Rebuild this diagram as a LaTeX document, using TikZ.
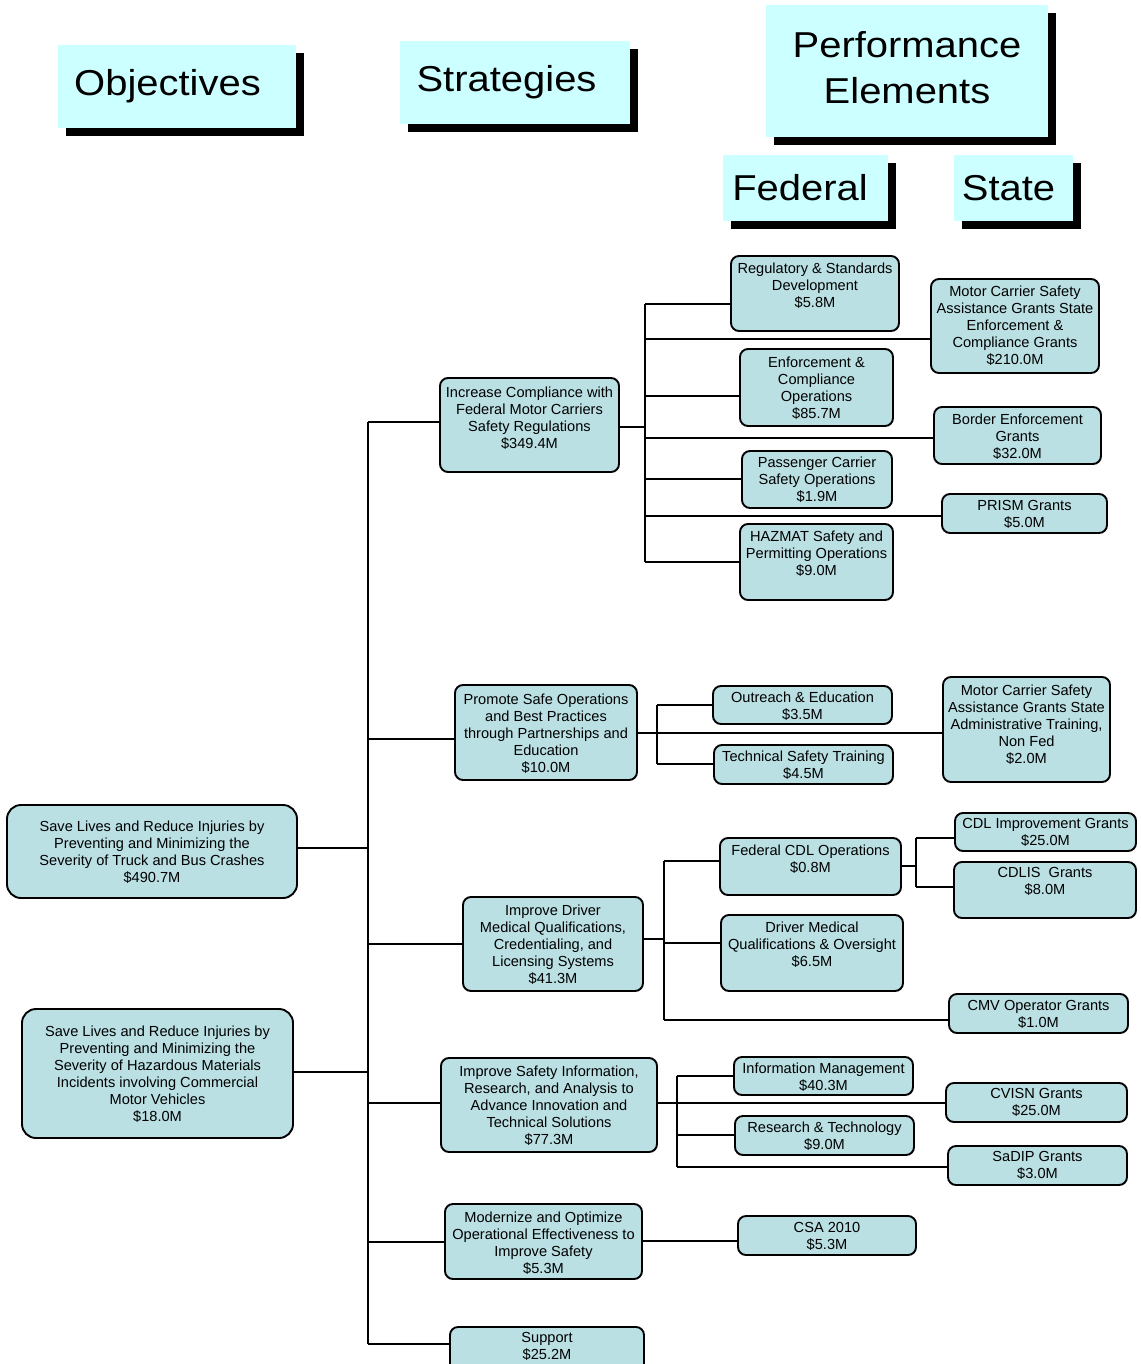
\documentclass[tikz,border=0pt]{standalone}
\usepackage{fontspec}
\setmainfont{Liberation Sans}
\newfontfamily\hdfont[FakeStretch=1.11]{Liberation Sans}
\usetikzlibrary{shadows}
\definecolor{hdr}{RGB}{204,255,255}
\definecolor{bxf}{RGB}{186,224,228}
\tikzset{
  bx/.style={draw, line width=1.9pt, rounded corners=8pt, fill=bxf, inner sep=0pt},
  txt/.style={font=\fontsize{14.6}{17}\selectfont, align=center, inner sep=0pt},
  hd/.style={fill=hdr, font=\hdfont\fontsize{36}{45.5}\selectfont, align=center, inner sep=0pt,
    drop shadow={shadow xshift=8pt, shadow yshift=-8pt, fill=black, opacity=1}},
  ln/.style={line width=1.9pt}
}
% name x1 y1 x2 y2 firstline-offset text
\newcommand\bx[7]{%
  \node[bx,minimum width={#4-#2},minimum height={#5-#3}] (#1) at ({(#2+#4)/2},{(#3+#5)/2}) {};
  \node[txt,anchor=north] (#1-t) at ([yshift={-(#6-4.8)}]#1.north) {#7};}
\begin{document}
\begin{tikzpicture}[x=1pt,y=-1pt]
\useasboundingbox (0,0) rectangle (1140,1364);

% headers
\node[hd,minimum width=238,minimum height=83] (hobj) at (177,86.5) {Objectives\hspace{19pt}};
\node[hd,minimum width=230,minimum height=83] (hstr) at (515,82.5) {Strategies\hspace{17pt}};
\node[hd,minimum width=282,minimum height=132] (hperf) at (907,71) {Performance\\Elements\rule[-7pt]{0pt}{7pt}};
\node[hd,minimum width=165,minimum height=66] (hfed) at (805.5,188) {Federal\hspace{11pt}};
\node[hd,minimum width=119,minimum height=66] (hsta) at (1013.5,188) {State\hspace{10pt}};

% objectives
\begin{scope}[bx/.append style={rounded corners=14pt}]
\bx{O1}{7}{805}{297}{898}{21}{Save Lives and Reduce Injuries by\\Preventing and Minimizing the\\Severity of Truck and Bus Crashes\\\$490.7M}
\bx{O2}{22}{1009}{293}{1138}{22}{Save Lives and Reduce Injuries by\\Preventing and Minimizing the\\Severity of Hazardous Materials\\Incidents involving Commercial\\Motor Vehicles\\\$18.0M}
\end{scope}

% strategies
\bx{S1}{440}{378}{619}{472}{14}{Increase Compliance with\\Federal Motor Carriers\\Safety Regulations\\\$349.4M}
\bx{S2}{455}{685}{637}{780}{14}{Promote Safe Operations\\and Best Practices\\through Partnerships and\\Education\\\$10.0M}
\bx{S3}{463}{897}{643}{991}{13}{Improve Driver\\Medical Qualifications,\\Credentialing, and\\Licensing Systems\\\$41.3M}
\bx{S4}{441}{1058}{657}{1152}{13}{Improve Safety Information,\\Research, and Analysis to\\Advance Innovation and\\Technical Solutions\\\$77.3M}
\bx{S5}{445}{1204}{642}{1279}{13}{Modernize and Optimize\\Operational Effectiveness to\\Improve Safety\\\$5.3M}
\bx{S6}{450}{1327}{644}{1378}{11}{Support\\\$25.2M}

% federal
\bx{F1}{731}{256}{899}{331}{12}{Regulatory \& Standards\\Development\\\$5.8M}
\bx{F2}{740}{349}{893}{426}{13}{Enforcement \&\\Compliance\\Operations\\\$85.7M}
\bx{F3}{742}{451}{892}{508}{11}{Passenger Carrier\\Safety Operations\\\$1.9M}
\bx{F4}{740}{524}{893}{600}{12}{HAZMAT Safety and\\Permitting Operations\\\$9.0M}
\bx{F5}{713}{686}{892}{724}{11}{Outreach \& Education\\\$3.5M}
\bx{F6}{714}{745}{893}{784}{11}{Technical Safety Training\\\$4.5M}
\bx{F7}{720}{838}{901}{895}{12}{Federal CDL Operations\\\$0.8M}
\bx{F8}{721}{915}{903}{991}{12}{Driver Medical\\Qualifications \& Oversight\\\$6.5M}
\bx{F9}{734}{1057}{913}{1095}{11}{Information Management\\\$40.3M}
\bx{F10}{735}{1116}{914}{1155}{11}{Research \& Technology\\\$9.0M}
\bx{CSA}{738}{1216}{916}{1255}{12}{CSA 2010\\\$5.3M}

% state
\bx{St1}{931}{279}{1099}{373}{12}{Motor Carrier Safety\\Assistance Grants State\\Enforcement \&\\Compliance Grants\\\$210.0M}
\bx{St2}{934}{407}{1101}{464}{12}{Border Enforcement\\Grants\\\$32.0M}
\bx{St3}{942}{494}{1107}{533}{12}{PRISM Grants\\\$5.0M}
\bx{St4}{943}{677}{1110}{782}{13}{Motor Carrier Safety\\Assistance Grants State\\Administrative Training,\\Non Fed\\\$2.0M}
\bx{St5}{949}{994}{1128}{1033}{12}{CMV Operator Grants\\\$1.0M}
\bx{St6}{955}{813}{1136}{851}{11}{CDL Improvement Grants\\\$25.0M}
\bx{St7}{954}{862}{1136}{918}{11}{CDLIS~ Grants\\\$8.0M}
\bx{St8}{946}{1083}{1127}{1122}{11}{CVISN Grants\\\$25.0M}
\bx{St9}{948}{1146}{1127}{1185}{11}{SaDIP Grants\\\$3.0M}

% trunk
\coordinate (T0) at (368,422);
\coordinate (T1) at (368,739);
\coordinate (T2) at (368,944);
\coordinate (T3) at (368,1103);
\coordinate (T4) at (368,1242);
\coordinate (T6) at (368,1344);
\coordinate (TO1) at (368,848);
\coordinate (TO2) at (368,1072);
\draw[ln] (T0) -- (T6);
\draw[ln] (T0) -- (T0 -| S1.west);
\draw[ln] (T1) -- (T1 -| S2.west);
\draw[ln] (T2) -- (T2 -| S3.west);
\draw[ln] (T3) -- (T3 -| S4.west);
\draw[ln] (T4) -- (T4 -| S5.west);
\draw[ln] (T6) -- (T6 -| S6.west);
\draw[ln] (TO1 -| O1.east) -- (TO1);
\draw[ln] (TO2 -| O2.east) -- (TO2);

% S1 bus
\coordinate (B1a) at (645,304);
\coordinate (B1b) at (645,562);
\coordinate (b12) at (645,339);
\coordinate (b13) at (645,396);
\coordinate (b14) at (645,427);
\coordinate (b15) at (645,438);
\coordinate (b16) at (645,479);
\coordinate (b17) at (645,516);
\draw[ln] (B1a) -- (B1b);
\draw[ln] (b14 -| S1.east) -- (b14);
\draw[ln] (B1a) -- (B1a -| F1.west);
\draw[ln] (b12) -- (b12 -| St1.west);
\draw[ln] (b13) -- (b13 -| F2.west);
\draw[ln] (b15) -- (b15 -| St2.west);
\draw[ln] (b16) -- (b16 -| F3.west);
\draw[ln] (b17) -- (b17 -| St3.west);
\draw[ln] (B1b) -- (B1b -| F4.west);

% S2 bus
\coordinate (B2a) at (657,705);
\coordinate (B2b) at (657,764);
\coordinate (c0) at (657,733);
\draw[ln] (B2a) -- (B2b);
\draw[ln] (c0 -| S2.east) -- (c0 -| St4.west);
\draw[ln] (B2a) -- (B2a -| F5.west);
\draw[ln] (B2b) -- (B2b -| F6.west);

% S3 bus
\coordinate (B3a) at (664,861);
\coordinate (B3b) at (664,1020);
\coordinate (b3o) at (664,939);
\coordinate (b3m) at (664,943);
\draw[ln] (B3a) -- (B3b);
\draw[ln] (b3o -| S3.east) -- (b3o);
\draw[ln] (B3a) -- (B3a -| F7.west);
\draw[ln] (b3m) -- (b3m -| F8.west);
\draw[ln] (B3b) -- (B3b -| St5.west);

% F7 bus
\coordinate (B4a) at (916,838);
\coordinate (B4b) at (916,887);
\coordinate (b4o) at (916,866);
\draw[ln] (B4a) -- (B4b);
\draw[ln] (b4o -| F7.east) -- (b4o);
\draw[ln] (B4a) -- (B4a -| St6.west);
\draw[ln] (B4b) -- (B4b -| St7.west);

% S4 bus
\coordinate (B5a) at (677,1076);
\coordinate (B5b) at (677,1167);
\coordinate (b5o) at (677,1103);
\coordinate (b5m) at (677,1135);
\draw[ln] (B5a) -- (B5b);
\draw[ln] (b5o -| S4.east) -- (b5o -| St8.west);
\draw[ln] (B5a) -- (B5a -| F9.west);
\draw[ln] (b5m) -- (b5m -| F10.west);
\draw[ln] (B5b) -- (B5b -| St9.west);

% S5
\coordinate (b6) at (690,1241);
\draw[ln] (b6 -| S5.east) -- (b6 -| CSA.west);
\end{tikzpicture}
\end{document}
